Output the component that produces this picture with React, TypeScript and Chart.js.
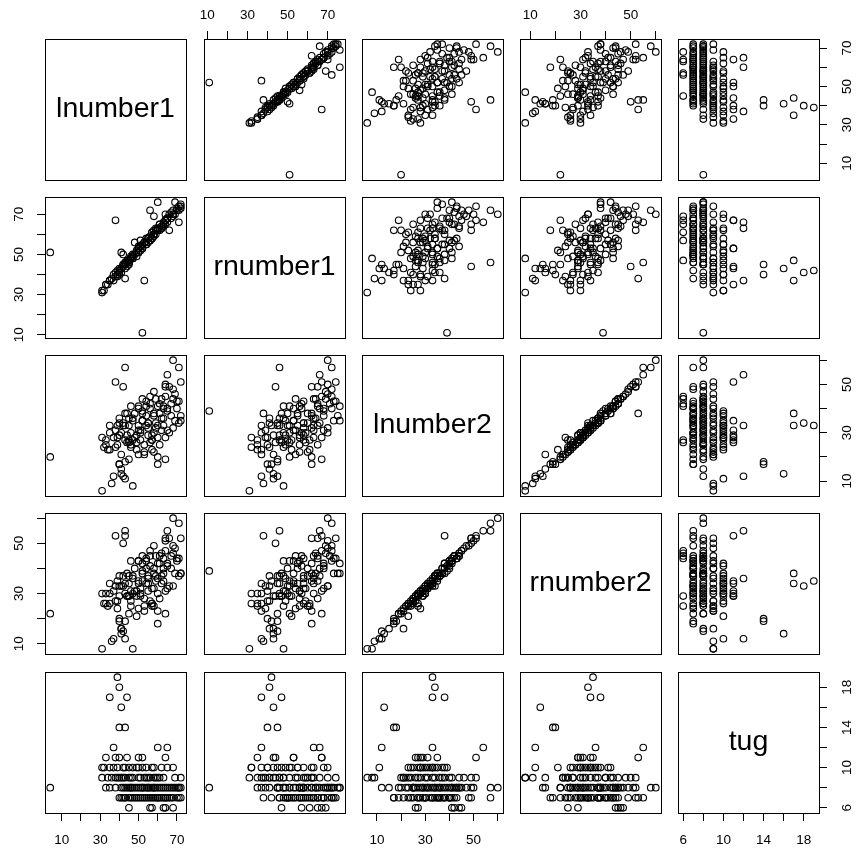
import React, { useEffect, useRef } from 'react';
import { Chart, registerables } from 'chart.js';

Chart.register(...registerables);

// ---- data (one entry per observation) ----
const lnumber1 = [
  39, 40, 35, 44, 41, 40, 43, 37, 60, 65,
  33, 38, 40, 44, 50, 52, 64,
  32, 35, 37, 39, 42, 43, 47, 49, 50, 52, 57, 58, 62, 65, 68,
  31, 36, 47, 38, 39, 41, 43, 45, 60, 51, 53, 54, 56, 58, 59, 61, 63, 69, 72, 42,
  4, 52, 35, 41, 42, 44, 45, 46, 47, 48, 50, 51, 53, 54, 55, 56, 57, 58, 59, 60, 61, 63, 64, 65, 66, 67, 68, 69, 70, 71, 72, 71,
  40, 41, 42, 43, 43, 64, 46, 47, 60, 49, 50, 52, 53, 55, 56, 57, 59, 60, 61, 62, 64, 66, 67, 68, 70, 71, 72,
  45, 56, 57, 63, 64, 68,
  38, 43, 46, 49, 52, 55, 58, 62, 33,
  45, 48, 51, 54, 58, 63, 65,
  40, 46, 50, 55, 34,
  45, 54, 31,
];
const rnumber1 = [
  42, 41, 37, 47, 43, 40, 45, 37, 63, 66,
  35, 67, 43, 44, 53, 53, 67,
  32, 37, 40, 40, 45, 43, 49, 52, 51, 55, 58, 62, 63, 68, 70,
  31, 38, 48, 41, 39, 43, 46, 46, 62, 54, 37, 55, 59, 60, 63, 62, 66, 70, 74, 44,
  51, 11, 37, 41, 45, 46, 45, 49, 48, 56, 53, 57, 56, 58, 58, 72, 58, 69, 62, 76, 65, 64, 70, 68, 62, 71, 70, 76, 73, 66, 75, 72,
  42, 51, 50, 38, 46, 67, 48, 50, 62, 49, 54, 53, 56, 58, 57, 61, 60, 63, 65, 63, 65, 70, 68, 72, 72, 74, 73,
  47, 57, 61, 65, 67, 69,
  39, 45, 48, 51, 54, 56, 60, 64, 35,
  46, 50, 52, 56, 59, 65, 68,
  41, 48, 51, 58, 35,
  47, 55, 32,
];
const lnumber2 = [
  33, 34, 33, 38, 13, 17, 18, 12, 33, 54,
  27, 51, 29, 26, 31, 35, 28,
  24, 30, 28, 25, 34, 11, 35, 23, 33, 38, 29, 37, 31, 39, 32,
  6, 9, 8, 24, 28, 21, 27, 33, 20, 31, 21, 37, 26, 22, 44, 38, 40, 46, 51, 49,
  20, 39, 23, 15, 12, 29, 19, 25, 36, 28, 40, 30, 22, 43, 34, 45, 27, 47, 32, 41, 25, 36, 50, 31, 49, 42, 60, 35, 43, 34, 37, 57,
  17, 30, 33, 38, 57, 19, 24, 27, 17, 29, 21, 35, 25, 32, 40, 23, 34, 28, 42, 36, 49, 30, 37, 48, 40, 43, 35,
  26, 42, 27, 41, 45, 44,
  31, 33, 41, 26, 44, 29, 38, 44, 25,
  36, 38, 27, 41, 30, 33, 40,
  36, 30, 41, 34, 23,
  27, 33, 28,
];
const rnumber2 = [
  35, 33, 34, 38, 14, 20, 19, 12, 36, 55,
  30, 53, 29, 29, 34, 35, 31,
  26, 30, 31, 27, 37, 12, 36, 21, 35, 42, 32, 38, 34, 41, 33,
  8, 11, 8, 27, 24, 16, 30, 34, 23, 32, 23, 40, 27, 25, 45, 42, 40, 48, 52, 50,
  22, 39, 26, 16, 15, 29, 22, 27, 37, 31, 43, 30, 25, 44, 37, 47, 26, 49, 35, 42, 28, 38, 51, 32, 52, 45, 60, 38, 44, 37, 38, 58,
  19, 33, 33, 53, 55, 22, 25, 30, 18, 31, 24, 38, 28, 34, 41, 26, 37, 30, 45, 37, 52, 33, 40, 49, 43, 44, 38,
  29, 45, 25, 44, 47, 46,
  33, 34, 43, 29, 45, 31, 40, 46, 26,
  37, 40, 29, 43, 32, 35, 42,
  37, 31, 43, 36, 25,
  29, 34, 30,
];
const tug = [
  19, 18, 17, 17, 16, 14, 14, 12, 12, 12,
  11, 11, 11, 11, 11, 11, 11,
  10, 10, 10, 10, 10, 10, 10, 10, 10, 10, 10, 10, 10, 10, 10,
  9, 9, 9, 9, 9, 9, 9, 9, 9, 9, 9, 9, 9, 9, 9, 9, 9, 9, 9, 9,
  8, 8, 8, 8, 8, 8, 8, 8, 8, 8, 8, 8, 8, 8, 8, 8, 8, 8, 8, 8, 8, 8, 8, 8, 8, 8, 8, 8, 8, 8, 8, 8,
  7, 7, 7, 7, 7, 7, 7, 7, 7, 7, 7, 7, 7, 7, 7, 7, 7, 7, 7, 7, 7, 7, 7, 7, 7, 7, 7,
  6, 6, 6, 6, 6, 6,
  8, 8, 8, 8, 8, 8, 8, 8, 8,
  7, 7, 7, 7, 7, 7, 7,
  9, 9, 9, 9, 9,
  10, 10, 10,
];

const variableNames = ['lnumber1', 'rnumber1', 'lnumber2', 'rnumber2', 'tug'];
const variableValues = [lnumber1, rnumber1, lnumber2, rnumber2, tug];

// tick marks and labelled ticks
const ticksNumber1 = [10, 20, 30, 40, 50, 60, 70];
const labelsNumber1 = [10, 30, 50, 70];
const ticksNumber2 = [10, 20, 30, 40, 50, 60];
const labelsNumber2 = [10, 30, 50];
const ticksTug = [6, 8, 10, 12, 14, 16, 18];
const labelsTug = [6, 10, 14, 18];

const variableTicks = [ticksNumber1, ticksNumber1, ticksNumber2, ticksNumber2, ticksTug];
const variableLabels = [labelsNumber1, labelsNumber1, labelsNumber2, labelsNumber2, labelsTug];

// ---- layout ----
const PANEL = 141;
const MARGIN = 40;
const N = variableNames.length;
const colLeft = (j: number) => Math.round(45.3 + j * 158.25);
const rowTop = (i: number) => Math.round(38.7 + i * 158.25);
const FONT = "'Liberation Sans', Arial, Helvetica, sans-serif";
const TICK_PAD: Record<string, number> = { top: 8, bottom: 11, left: 10.5, right: 12.5 };

function paddedRange(vals: number[]): [number, number] {
  const lo = Math.min(...vals);
  const hi = Math.max(...vals);
  const r = hi - lo;
  return [lo - 0.04 * r, hi + 0.04 * r];
}

function makeScale(position: string, v: number, show: boolean) {
  const vertical = position === 'left' || position === 'right';
  const [lo, hi] = paddedRange(variableValues[v]);
  return {
    type: 'linear',
    axis: vertical ? 'y' : 'x',
    position,
    min: lo,
    max: hi,
    bounds: 'data',
    afterBuildTicks: (s: any) => {
      s.ticks = variableTicks[v].map((t) => ({ value: t }));
    },
    afterFit: (s: any) => {
      if (vertical) s.width = MARGIN;
      else s.height = MARGIN;
    },
    grid: {
      display: show,
      drawOnChartArea: false,
      drawTicks: true,
      tickLength: 8,
      color: '#000',
      tickColor: '#000',
      lineWidth: 1,
      tickWidth: 1,
    },
    border: { display: true, color: '#000', width: 1 },
    ticks: {
      display: show,
      autoSkip: false,
      color: '#000',
      font: { family: FONT, size: 13.5 },
      padding: TICK_PAD[position],
      minRotation: vertical ? 90 : 0,
      maxRotation: vertical ? 90 : 0,
      crossAlign: vertical ? 'center' : 'near',
      callback: (val: any) => (variableLabels[v].includes(Number(val)) ? String(val) : ''),
    },
  };
}

function Panel({ i, j }: { i: number; j: number }) {
  const ref = useRef<HTMLCanvasElement>(null);
  useEffect(() => {
    if (!ref.current) return;
    const diag = i === j;
    const xs = variableValues[j];
    const ys = variableValues[i];
    const data = diag ? [] : xs.map((x, k) => ({ x, y: ys[k] }));
    const showBottom = i === N - 1 && j % 2 === 0;
    const showTop = i === 0 && j % 2 === 1;
    const showLeft = j === 0 && i % 2 === 1;
    const showRight = j === N - 1 && i % 2 === 0;
    const label = variableNames[i];
    const chart = new Chart(ref.current, {
      type: 'scatter',
      data: {
        datasets: [
          {
            data,
            xAxisID: 'x',
            yAxisID: 'y',
            pointRadius: 3.3,
            pointHoverRadius: 3.3,
            pointBorderWidth: 1.1,
            pointBorderColor: '#000',
            pointBackgroundColor: 'rgba(0,0,0,0)',
            showLine: false,
          } as any,
        ],
      },
      options: {
        responsive: false,
        animation: false,
        events: [],
        layout: { padding: 0 },
        plugins: { legend: { display: false }, tooltip: { enabled: false } },
        scales: {
          x: makeScale('bottom', j, showBottom),
          x2: makeScale('top', j, showTop),
          y: makeScale('left', i, showLeft),
          y2: makeScale('right', i, showRight),
        } as any,
      },
      plugins: [
        {
          id: 'diagLabel',
          afterDatasetsDraw(c: any) {
            if (!diag) return;
            const { left, right, top, bottom } = c.chartArea;
            const ctx = c.ctx;
            ctx.save();
            ctx.fillStyle = '#000';
            ctx.font = `28.5px ${FONT}`;
            ctx.textAlign = 'center';
            ctx.textBaseline = 'middle';
            ctx.fillText(label, (left + right) / 2, (top + bottom) / 2);
            ctx.restore();
          },
        },
      ],
    });
    return () => chart.destroy();
  }, [i, j]);
  return (
    <canvas
      ref={ref}
      width={PANEL + 2 * MARGIN}
      height={PANEL + 2 * MARGIN}
      style={{
        position: 'absolute',
        left: colLeft(j) - MARGIN,
        top: rowTop(i) - MARGIN,
        width: PANEL + 2 * MARGIN,
        height: PANEL + 2 * MARGIN,
      }}
    />
  );
}

export default function App() {
  const panels = [];
  for (let i = 0; i < N; i++) {
    for (let j = 0; j < N; j++) {
      panels.push(<Panel key={`${i}-${j}`} i={i} j={j} />);
    }
  }
  return (
    <div
      style={{
        position: 'absolute',
        left: 0,
        top: 0,
        width: 856,
        height: 853,
        background: '#fff',
        overflow: 'hidden',
      }}
    >
      {panels}
    </div>
  );
}
